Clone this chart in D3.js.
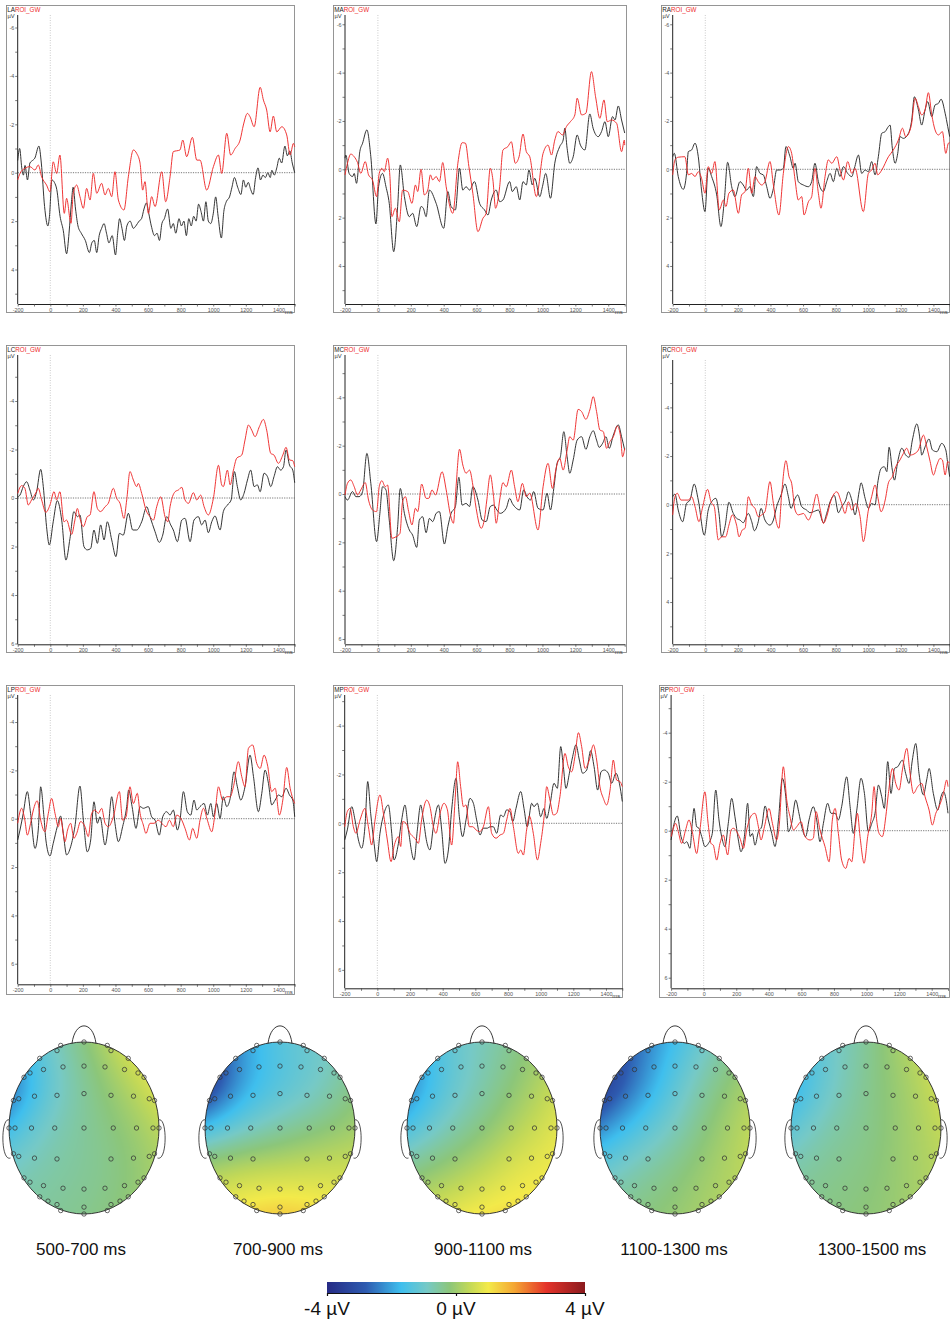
<!DOCTYPE html>
<html><head><meta charset="utf-8">
<script src="https://cdn.jsdelivr.net/npm/d3@7"></script>
<style>
html,body{margin:0;padding:0;background:#fff;}
svg{display:block;font-family:"Liberation Sans",Arial,sans-serif;}
</style></head><body>
<svg id="fig" width="950" height="1320"></svg>
<script>
// ---------- ERP waveforms: [time in ms, amplitude in µV] ----------
const roiNames = ["LA","MA","RA","LC","MC","RC","LP","MP","RP"];
const conditionLabel = "ROI_GW";
const timeTicks = d3.range(-200, 1401, 200);

const blackLA = [[-200,-0.5],[-188,-1.0],[-175,-0.2],[-165,0.1],[-155,-0.3],[-140,0.3],[-125,-0.4],[-110,-0.5],[-95,-0.6],[-70,-1.1],[-55,-0.4],[-35,1.4],[-15,2.2],[-5,1.8],[10,0.3],[25,0.4],[40,0.7],[60,1.8],[80,2.4],[100,3.35],[115,2.5],[130,1.2],[140,0.6],[155,1.5],[170,2.2],[190,2.5],[215,2.8],[240,3.3],[255,2.9],[270,2.8],[285,3.3],[300,2.6],[315,2.3],[330,2.1],[345,2.5],[360,2.9],[380,2.6],[400,3.4],[415,2.4],[425,1.9],[440,2.3],[455,2.8],[470,2.2],[490,2.0],[510,2.3],[525,2.2],[545,2.0],[560,1.9],[575,1.5],[590,1.25],[605,1.7],[620,2.2],[640,2.6],[655,2.5],[670,2.8],[685,2.1],[700,1.9],[720,1.5],[740,2.3],[755,2.1],[770,2.5],[790,1.9],[805,2.2],[820,2.0],[835,2.6],[850,1.9],[865,2.2],[880,1.8],[895,2.0],[910,1.3],[925,1.6],[940,2.0],[955,1.2],[970,2.0],[985,2.1],[1000,1.7],[1015,1.0],[1030,1.8],[1050,2.7],[1065,1.6],[1080,1.2],[1100,1.0],[1115,0.6],[1130,0.2],[1150,0.6],[1170,0.9],[1185,0.3],[1200,0.6],[1215,0.4],[1230,0.7],[1245,0.9],[1260,0.2],[1275,-0.2],[1290,0.3],[1305,0.1],[1320,0.2],[1335,0.0],[1350,0.2],[1360,-0.1],[1375,0.1],[1390,-0.2],[1405,-0.6],[1420,-0.4],[1440,-1.1],[1455,-0.7],[1470,-0.9],[1485,-0.4],[1500,0.0]];
const redLA = [[-200,0.3],[-186,0.03],[-156,-0.18],[-125,-0.25],[-94,-0.11],[-74,-0.32],[-53,0.17],[-23,0.51],[-2,0.79],[18,-0.45],[39,0.03],[59,-0.73],[86,1.68],[100,1.06],[127,2.09],[141,0.85],[162,0.51],[182,0.99],[203,1.47],[223,0.65],[244,1.13],[264,0.03],[285,0.85],[315,0.44],[336,0.92],[356,0.65],[377,0.99],[397,-0.04],[418,1.13],[452,1.54],[479,0.17],[510,-0.94],[530,-0.8],[551,-0.39],[567,0.72],[581,0.37],[602,1.68],[622,0.99],[643,1.4],[684,-0.04],[708,1.2],[735,0.17],[755,-0.87],[796,-0.94],[813,-1.35],[837,-0.66],[872,-1.46],[899,-0.52],[919,-0.52],[960,0.72],[1001,-0.25],[1032,-0.73],[1052,0.03],[1083,-1.63],[1107,-0.73],[1134,-1.0],[1165,-1.35],[1185,-1.97],[1210,-2.45],[1226,-2.31],[1251,-1.9],[1288,-3.53],[1308,-3.0],[1328,-2.59],[1349,-1.69],[1369,-2.34],[1390,-1.69],[1421,-1.9],[1451,-1.56],[1472,-0.73],[1492,-1.21],[1500,-1.07]];

const blackMA = [[-200,-0.46],[-195,-0.59],[-175,0.17],[-154,0.3],[-144,0.17],[-130,0.58],[-110,-0.73],[-93,-1.08],[-67,-1.63],[-43,-0.52],[-12,2.26],[4,0.72],[28,0.17],[49,0.72],[69,1.41],[96,3.41],[120,1.54],[136,-0.18],[161,1.13],[191,1.96],[211,1.82],[236,2.37],[262,1.54],[276,1.61],[293,1.96],[313,0.86],[354,1.41],[400,2.44],[425,0.92],[445,1.54],[471,1.68],[496,-0.04],[516,0.86],[536,0.72],[557,0.86],[587,0.51],[618,1.41],[648,1.68],[669,1.89],[689,1.27],[719,0.86],[740,1.34],[760,1.27],[801,0.51],[817,0.92],[841,0.72],[862,1.27],[882,0.51],[902,0.65],[918,0.03],[939,0.65],[953,0.37],[984,1.13],[1000,0.72],[1020,0.17],[1049,1.2],[1075,-0.25],[1105,-0.94],[1126,-1.21],[1136,-1.7],[1150,-0.87],[1166,-0.25],[1187,-0.52],[1211,-1.42],[1231,-1.0],[1258,-0.8],[1288,-2.29],[1308,-1.7],[1339,-1.35],[1359,-1.56],[1380,-1.97],[1400,-1.35],[1426,-2.18],[1441,-2.04],[1461,-2.62],[1481,-2.04],[1500,-1.5]];
const redMA = [[-200,0.23],[-185,-0.25],[-165,-0.63],[-144,-0.52],[-124,-0.28],[-104,0.17],[-77,-0.32],[-57,0.23],[-33,0.44],[-8,1.13],[8,0.17],[24,-0.04],[39,0.1],[59,-0.46],[73,0.3],[85,1.96],[106,1.61],[130,2.17],[150,0.86],[181,0.92],[207,1.41],[228,0.65],[242,0.92],[262,0],[282,1.06],[303,0.86],[319,0.23],[333,0.44],[354,0.3],[374,0.51],[394,-0.28],[415,0.72],[455,1.82],[486,-0.25],[512,-1.1],[532,-1.08],[553,-0.11],[577,0.99],[608,2.58],[638,2.03],[658,1.82],[683,-0.04],[699,0.44],[715,1.61],[740,0.72],[760,-0.8],[790,-0.94],[811,-1.14],[835,-0.25],[858,-0.52],[882,-1.46],[902,-0.73],[923,-0.52],[963,1.13],[1004,-0.66],[1034,-1.0],[1055,-0.59],[1075,-1.21],[1095,-1.56],[1122,-1.42],[1146,-1.77],[1170,-1.97],[1197,-2.25],[1211,-2.94],[1238,-2.25],[1264,-2.32],[1298,-4.04],[1323,-3.0],[1349,-2.11],[1374,-2.87],[1394,-1.97],[1420,-2.04],[1451,-1.9],[1481,-0.73],[1498,-1.21],[1500,-1.0]];

const blackRA = [[-200,-0.52],[-190,-0.66],[-166,0.3],[-135,0.83],[-115,0.17],[-104,-0.73],[-84,-0.8],[-63,-1.08],[-43,-0.52],[-23,0.86],[-2,1.75],[18,-0.04],[39,0.3],[70,1.06],[96,2.37],[117,1.27],[137,-0.29],[162,0.72],[182,1.13],[213,0.51],[233,0.65],[254,0.86],[274,0.72],[295,1.13],[315,-0.11],[336,0.17],[356,0.23],[377,0.72],[397,1.2],[418,0.79],[438,0.03],[458,0.03],[479,-0.04],[495,-0.94],[520,-0.52],[540,-0.04],[551,-0.25],[571,0.51],[602,0.65],[633,0.72],[653,0.51],[673,-0.25],[694,0.51],[725,0.92],[745,0.51],[766,0.17],[786,0.51],[807,-0.04],[827,0.3],[848,-0.11],[874,0.17],[899,0.3],[915,-0.04],[940,-0.59],[960,0.17],[981,0.03],[1001,0.1],[1021,-0.32],[1042,0.23],[1062,-0.52],[1083,-1.49],[1104,-1.56],[1124,-1.77],[1134,-1.83],[1148,-0.87],[1165,-0.25],[1181,-0.66],[1195,-1.35],[1216,-1.28],[1247,-1.49],[1267,-2.04],[1283,-3.0],[1308,-2.46],[1328,-1.83],[1349,-2.46],[1365,-2.8],[1390,-2.18],[1410,-2.66],[1431,-2.73],[1447,-2.9],[1472,-2.32],[1488,-1.77],[1500,-1.35]];
const redRA = [[-200,0.23],[-186,-0.39],[-166,-0.5],[-125,-0.52],[-104,0.23],[-84,0.17],[-63,0.3],[-43,0.1],[-23,0.37],[-2,0.99],[18,-0.11],[39,0.17],[59,-0.32],[86,1.68],[111,1.27],[127,1.54],[145,0.99],[172,0.86],[203,1.82],[223,1.06],[244,0.92],[264,-0.04],[285,0.99],[305,0.3],[325,0.51],[346,0.65],[366,0.51],[397,-0.32],[418,0.65],[452,1.89],[479,0.17],[510,-0.94],[530,-0.66],[551,0.44],[571,1.27],[592,1.13],[606,1.89],[633,1.34],[653,1.13],[673,-0.04],[694,0.99],[710,1.61],[735,0.3],[755,-0.39],[776,-0.25],[807,-0.52],[827,0.03],[848,0.44],[874,-0.32],[899,0.17],[919,-0.04],[970,1.75],[1001,0.17],[1021,0.03],[1042,-0.25],[1058,0.23],[1083,0.03],[1124,-0.52],[1154,-0.8],[1185,-1.21],[1210,-1.7],[1230,-1.35],[1263,-1.77],[1288,-2.94],[1308,-2.59],[1328,-2.25],[1349,-2.46],[1369,-3.17],[1390,-2.25],[1410,-1.63],[1431,-1.42],[1455,-1.56],[1476,-0.66],[1492,-1.08],[1500,-1.1]];

const blackLC = [[-200,-0.05],[-186,-0.12],[-166,-0.47],[-145,-0.67],[-125,-0.33],[-104,0.08],[-84,-0.26],[-59,-1.18],[-43,-0.47],[-23,1.18],[-6,1.94],[18,0.98],[43,0.11],[70,0.91],[96,2.56],[121,1.66],[145,0.56],[166,0.77],[182,0.7],[207,2.01],[227,2.14],[248,2.08],[268,1.32],[289,1.87],[309,1.11],[330,1.73],[350,0.98],[377,1.73],[403,2.42],[424,1.46],[448,1.53],[479,0.63],[506,1.32],[530,1.32],[561,0.98],[592,0.36],[612,0.77],[643,1.39],[669,1.83],[690,1.53],[714,0.77],[739,1.11],[755,1.32],[780,1.8],[807,0.91],[827,0.84],[858,1.8],[882,0.91],[909,0.77],[929,1.11],[950,0.91],[970,1.43],[991,0.98],[1011,0.74],[1042,1.32],[1062,0.56],[1087,0.29],[1110,0.08],[1130,-1.09],[1148,-0.47],[1169,0.08],[1189,-0.19],[1210,-0.74],[1230,-1.15],[1251,-0.47],[1271,-0.54],[1288,-0.26],[1312,-1.02],[1333,-0.88],[1353,-0.47],[1373,-0.88],[1394,-1.29],[1414,-1.15],[1431,-1.29],[1447,-1.98],[1468,-1.36],[1488,-1.15],[1500,-0.63]];
const redLC = [[-200,-0.19],[-176,-0.51],[-156,-0.4],[-135,0.29],[-115,0.08],[-88,-0.22],[-74,-0.4],[-53,0.08],[-27,0.59],[-2,0.29],[23,-0.26],[39,0.08],[59,-0.26],[84,0.98],[100,0.91],[131,1.5],[151,0.91],[166,0.43],[182,0.84],[203,1.18],[227,0.77],[244,0.7],[268,-0.26],[289,0.43],[309,0.56],[336,0.36],[356,0.22],[387,-0.4],[407,0.01],[428,0.22],[452,0.84],[469,0.08],[489,-1.09],[510,-0.74],[530,-0.47],[540,-0.6],[561,-0.19],[587,0.49],[612,0.77],[633,0.91],[653,0.36],[678,-0.05],[704,0.77],[721,0.98],[735,0.36],[766,-0.26],[786,-0.33],[807,-0.44],[827,0.08],[848,0.22],[878,-0.22],[899,0.08],[923,-0.12],[944,0.36],[970,0.7],[1001,0.01],[1032,-1.35],[1052,-0.54],[1062,-0.47],[1087,-1.15],[1104,-0.54],[1124,-1.15],[1144,-1.64],[1175,-1.77],[1195,-2.39],[1216,-3.01],[1236,-2.8],[1257,-2.53],[1283,-2.94],[1308,-3.24],[1328,-2.8],[1353,-1.84],[1373,-1.77],[1400,-1.43],[1427,-1.77],[1447,-2.09],[1468,-1.57],[1488,-1.54],[1500,-1.29]];

const blackMC = [[-200,0.11],[-185,0.25],[-154,-0.1],[-134,0.11],[-114,0.11],[-93,-0.1],[-67,-1.68],[-43,-0.44],[-8,1.97],[12,0.8],[28,-0.3],[49,-0.17],[69,1.08],[96,2.76],[120,1.35],[136,-0.23],[161,0.8],[191,1.49],[211,1.7],[236,2.21],[252,1.08],[272,0.94],[293,1.6],[313,1.01],[333,1.14],[354,0.8],[374,0.73],[404,2.07],[425,1.35],[445,0.8],[471,0.52],[492,-0.69],[512,0.46],[536,0.39],[557,0.52],[577,-0.3],[608,0.25],[634,1.08],[658,1.14],[683,0.52],[703,0.46],[723,0.66],[744,0.8],[780,0.59],[801,0.18],[817,0.39],[841,0.59],[862,0.66],[886,-0.17],[906,0.11],[927,0.25],[947,-0.1],[973,0.59],[1004,0.66],[1028,-0.03],[1049,0.66],[1069,-0.23],[1089,-1.27],[1109,-1.54],[1130,-2.58],[1150,-1.54],[1166,-0.86],[1187,-1.41],[1211,-2.23],[1238,-2.37],[1264,-1.85],[1288,-2.37],[1309,-2.62],[1329,-2.23],[1345,-1.93],[1366,-2.1],[1386,-2.37],[1406,-1.89],[1431,-2.44],[1461,-2.86],[1481,-2.37],[1500,-1.82]];
const redMC = [[-200,0.04],[-185,-0.44],[-165,-0.58],[-144,-0.3],[-124,0.04],[-104,-0.17],[-77,-0.47],[-57,0.25],[-33,0.66],[-8,0.73],[8,-0.3],[24,-0.55],[45,-0.3],[59,-0.37],[85,1.83],[110,1.77],[134,1.63],[150,0.32],[167,0.11],[187,0.73],[207,1.28],[228,0.59],[242,0.73],[266,-0.41],[293,0.18],[309,0.18],[329,-0.17],[350,0.04],[390,-0.92],[415,-0.17],[439,0.8],[459,1.21],[475,-0.3],[496,-1.85],[516,-1.2],[536,-0.86],[557,-0.99],[577,-0.37],[597,0.59],[628,1.42],[648,1.01],[662,0.25],[683,-0.79],[703,0.11],[719,1.21],[740,0.25],[760,-0.47],[780,-0.3],[811,-0.99],[831,-0.3],[851,0.32],[878,-0.44],[902,0.11],[923,-0.03],[973,1.49],[1004,-0.3],[1034,-1.27],[1061,-0.23],[1081,-0.99],[1105,-1.48],[1126,-0.99],[1150,-1.82],[1166,-2.37],[1187,-2.23],[1217,-3.5],[1238,-3.41],[1264,-3.09],[1288,-3.48],[1309,-4.03],[1329,-3.41],[1349,-2.65],[1370,-2.58],[1390,-1.89],[1410,-2.17],[1431,-2.37],[1455,-2.81],[1475,-2.37],[1487,-1.54],[1500,-1.89]];

const blackRC = [[-200,-0.33],[-186,-0.44],[-166,0.22],[-139,0.7],[-115,-0.05],[-94,-0.19],[-68,-0.85],[-43,-0.19],[-6,1.25],[18,0.22],[39,-0.12],[65,-0.26],[84,0.36],[100,1.32],[121,0.9],[145,-0.1],[172,0.36],[192,0.56],[213,0.63],[233,0.74],[264,0.36],[285,0.7],[301,1.07],[325,0.7],[342,0.15],[366,0.63],[397,0.84],[418,0.63],[438,0.08],[465,-0.4],[489,-0.85],[510,-0.33],[526,0.15],[547,-0.19],[567,-0.4],[592,0.08],[622,0.22],[643,0.33],[663,0.29],[694,0.22],[725,0.74],[745,0.36],[766,-0.12],[792,-0.38],[817,0.33],[837,0.08],[862,-0.19],[878,-0.53],[899,-0.19],[919,0.42],[944,-0.53],[956,-0.9],[981,-0.26],[1001,0.15],[1021,-0.05],[1042,0.01],[1058,-0.88],[1079,-1.49],[1099,-1.56],[1114,-1.36],[1128,-2.36],[1148,-1.42],[1161,-1.01],[1181,-1.77],[1206,-2.32],[1230,-2.04],[1251,-1.95],[1271,-2.66],[1298,-3.32],[1318,-2.66],[1328,-2.04],[1349,-2.38],[1373,-2.7],[1394,-2.25],[1421,-2.18],[1451,-2.52],[1476,-2.25],[1488,-1.7],[1500,-1.15]];
const redRC = [[-200,0.42],[-186,-0.33],[-172,-0.47],[-149,-0.19],[-125,-0.19],[-104,-0.19],[-84,-0.33],[-63,0.08],[-39,0.7],[-18,0.15],[14,-0.63],[35,-0.12],[55,0.08],[80,1.45],[100,1.32],[125,1.32],[145,0.84],[166,0.42],[192,0.84],[207,1.32],[227,1.04],[244,0.97],[264,-0.33],[285,0.01],[305,0.15],[325,0.49],[346,0.42],[366,0.29],[397,-0.95],[418,-0.05],[438,0.77],[452,0.97],[469,-0.47],[495,-1.81],[514,-1.15],[530,-0.88],[551,0.22],[571,0.42],[602,0.36],[633,0.63],[653,0.36],[684,-0.44],[704,0.15],[725,0.77],[745,0.49],[772,-0.19],[807,-0.53],[837,-0.05],[858,0.36],[878,-0.12],[899,0.22],[923,-0.05],[950,0.49],[970,1.52],[1001,0.22],[1021,-0.33],[1042,-0.81],[1058,-0.33],[1079,0.29],[1104,-0.19],[1124,-0.9],[1148,-1.15],[1169,-1.56],[1195,-1.84],[1216,-2.11],[1236,-2.32],[1257,-2.04],[1288,-2.11],[1308,-2.25],[1339,-2.86],[1359,-2.38],[1380,-1.77],[1400,-1.22],[1421,-1.63],[1441,-1.9],[1455,-1.84],[1472,-1.22],[1488,-1.77],[1500,-1.7]];

const blackLP = [[-200,0.88],[-186,0.47],[-166,-0.22],[-141,-1.12],[-121,-0.22],[-94,1.23],[-74,0.47],[-59,-1.32],[-39,-0.08],[-27,0.88],[-2,1.54],[18,1.02],[43,0.33],[63,-0.11],[80,0.61],[100,1.5],[125,1.16],[151,0.33],[182,-1.35],[203,0.06],[227,1.37],[248,0.88],[268,-0.7],[289,0.19],[305,-0.08],[336,1.09],[356,0.33],[377,-0.91],[397,0.19],[418,0.95],[444,0.33],[469,-0.5],[481,-1.19],[502,-0.5],[526,0.4],[551,-0.5],[571,-0.43],[602,-0.5],[622,-0.08],[643,0.06],[669,0.68],[690,-0.08],[714,-0.29],[735,-0.15],[755,-0.36],[780,0.47],[796,0.06],[817,-1.12],[841,-0.29],[862,-0.15],[882,-0.77],[899,-0.36],[919,-0.5],[944,-0.63],[964,-0.15],[985,-0.63],[1001,-0.08],[1021,-0.63],[1042,-0.01],[1062,-0.91],[1083,-0.5],[1104,-0.84],[1128,-1.94],[1148,-1.32],[1169,-0.77],[1195,-1.32],[1226,-2.63],[1247,-1.74],[1277,-0.29],[1298,-1.05],[1318,-2.01],[1339,-1.46],[1359,-0.57],[1380,-0.77],[1400,-0.98],[1421,-0.91],[1447,-1.26],[1468,-0.98],[1488,-0.77],[1500,-0.08]];
const redLP = [[-200,0.19],[-176,-0.43],[-156,0.06],[-141,0.68],[-121,0.19],[-104,-0.36],[-80,-0.74],[-59,0.06],[-33,0.54],[-12,-0.22],[8,-0.84],[29,-0.22],[49,0.33],[63,-0.01],[90,0.95],[106,0.47],[125,0.19],[145,0.81],[162,0.61],[186,0.12],[213,0.33],[233,0.74],[254,-0.22],[274,-0.36],[295,-0.22],[315,-0.43],[336,0.19],[356,0.33],[387,-0.08],[424,-1.12],[444,0.06],[465,-0.08],[489,-1.32],[510,-0.63],[534,-1.05],[551,-0.22],[571,0.26],[587,0.61],[612,0.19],[637,0.19],[663,0.06],[684,0.19],[710,0.33],[731,0.06],[755,0.33],[776,-0.15],[807,0.06],[827,0.4],[854,0.88],[874,0.4],[899,0.81],[919,0.06],[940,-0.43],[964,0.06],[991,0.54],[1011,-0.22],[1032,-1.32],[1058,-0.77],[1083,-0.91],[1104,-0.91],[1124,-1.32],[1154,-2.36],[1175,-1.74],[1195,-1.32],[1216,-2.91],[1242,-3.05],[1267,-2.29],[1288,-2.08],[1312,-2.63],[1333,-2.22],[1359,-1.12],[1380,-1.26],[1406,-0.15],[1427,-0.77],[1451,-2.12],[1472,-1.26],[1488,-0.84],[1500,-0.63]];

const blackMP = [[-200,0.68],[-184,0.27],[-157,-0.68],[-137,-0.14],[-116,0.68],[-96,1.02],[-76,0.14],[-59,-1.71],[-41,-0.41],[-20,0.82],[-4,1.57],[16,0.41],[41,-0.41],[67,-0.75],[88,0.41],[102,1.5],[129,0.82],[149,-0.14],[169,-0.75],[190,0.27],[225,1.5],[245,0.27],[265,-0.75],[282,-0.14],[302,0.75],[322,1.09],[343,0.14],[374,-0.75],[394,0.27],[414,1.64],[435,1.09],[455,-0.55],[482,-1.84],[502,-0.27],[522,0.55],[543,-0.14],[567,-1.02],[588,-0.82],[608,-0.14],[629,0.48],[649,0.2],[674,0.2],[690,0.14],[710,0.14],[731,0.41],[755,-0.34],[772,-0.27],[792,-0.55],[812,-0.48],[829,-0.07],[849,-0.61],[878,-1.3],[898,-0.61],[918,0.14],[945,-0.82],[959,-0.68],[980,-0.82],[1000,-0.27],[1021,-0.61],[1037,-0.2],[1057,-0.75],[1082,-1.64],[1102,-1.43],[1123,-3.14],[1139,-2.32],[1155,-1.43],[1176,-2.05],[1196,-2.73],[1216,-3.21],[1237,-2.59],[1257,-2.05],[1282,-2.18],[1306,-2.97],[1327,-2.32],[1349,-1.36],[1370,-2.11],[1390,-2.18],[1414,-2.05],[1435,-1.64],[1461,-2.05],[1482,-1.64],[1500,-0.89]];
const redMP = [[-200,0.14],[-184,-0.48],[-167,-0.61],[-147,0.14],[-131,0.41],[-106,-0.14],[-76,-0.61],[-55,0.14],[-35,0.89],[-14,-0.14],[16,-1.16],[37,-0.41],[61,0.68],[84,1.57],[102,0.95],[129,0.55],[143,0.95],[155,-0.07],[176,0],[200,0.41],[220,0.55],[237,0.68],[251,0.82],[271,-0.14],[302,-0.95],[322,-0.68],[343,0.14],[359,0.41],[384,-0.41],[408,-0.82],[429,-0.55],[455,0.89],[476,-0.95],[492,-2.52],[510,-1.5],[527,-0.68],[543,-0.75],[563,0.14],[584,0.14],[604,0.27],[625,0.34],[649,0.14],[680,-0.68],[700,0.41],[727,0.61],[751,0.48],[772,0.41],[792,-0.14],[812,-0.61],[833,0.14],[863,1.23],[878,1.09],[894,1.3],[914,0.27],[931,-0.3],[955,0.41],[980,1.5],[1000,0.82],[1021,-0.27],[1037,-1.5],[1057,-0.95],[1078,-0.34],[1098,-0.41],[1118,-1.09],[1149,-2.86],[1169,-2.32],[1190,-2.11],[1210,-2.73],[1231,-3.71],[1251,-3.14],[1272,-2.25],[1298,-2.59],[1323,-3.21],[1343,-2.59],[1363,-1.5],[1384,-1.02],[1404,-0.75],[1425,-1.36],[1445,-2.59],[1465,-1.77],[1486,-1.71],[1500,-1.5]];

const blackRP = [[-200,0.38],[-186,-0.16],[-162,-0.6],[-139,0.24],[-119,0.52],[-104,0.45],[-84,0.72],[-70,-0.3],[-59,-0.91],[-43,-0.16],[-29,-0.1],[-12,0.24],[8,0.65],[29,0.52],[53,0.11],[74,-1.66],[94,-0.44],[115,0.38],[131,0.65],[151,-0.3],[172,-1.32],[192,-0.57],[213,0.38],[229,0.86],[250,0.24],[270,-1.12],[285,0.24],[299,0.11],[315,0.59],[336,0.04],[356,-0.16],[377,-1.01],[397,-0.44],[418,0.11],[438,0.65],[459,-0.44],[483,-2.14],[504,-1.39],[520,0.04],[540,-0.3],[565,-1.25],[585,-0.71],[602,-0.16],[626,0.24],[647,-0.44],[673,-0.98],[694,-0.44],[714,0.45],[735,-0.3],[761,-1.12],[782,-0.71],[807,-0.71],[827,-0.44],[847,-0.98],[878,-2.2],[899,-0.98],[919,0.11],[940,-0.84],[966,-2.14],[987,-1.52],[1011,0.04],[1032,-0.3],[1052,-0.71],[1073,-1.86],[1093,-1.39],[1109,-0.91],[1130,-2.82],[1150,-1.52],[1171,-2.54],[1191,-2.61],[1220,-2.88],[1240,-2.34],[1261,-1.93],[1281,-2.88],[1302,-3.56],[1322,-2.34],[1349,-1.46],[1369,-2.07],[1384,-2.54],[1410,-1.52],[1437,-0.84],[1457,-1.39],[1472,-1.59],[1492,-1.12],[1500,-0.71]];
const redRP = [[-200,0.24],[-186,-0.1],[-172,-0.3],[-156,0.04],[-135,0.52],[-111,-0.03],[-90,-0.44],[-70,0.04],[-43,0.93],[-23,-0.03],[8,-1.59],[25,-0.44],[45,0.52],[59,0.59],[80,1.2],[100,0.52],[121,0.18],[147,0.99],[168,-0.03],[182,-0.1],[203,0.04],[223,0.31],[244,0.72],[264,-0.03],[295,-0.64],[315,-0.71],[336,-0.16],[352,0.38],[373,-0.16],[401,-0.91],[422,-0.3],[448,0.38],[463,-0.16],[489,-2.61],[510,-1.25],[530,-0.57],[551,-0.03],[571,-0.16],[598,-0.37],[622,0.24],[653,0.38],[673,0.31],[690,-0.78],[714,-0.03],[745,0.65],[770,1.27],[790,-0.44],[807,-0.91],[827,0.11],[847,1.2],[872,1.54],[893,1.13],[909,1.27],[929,-0.03],[944,-0.71],[960,0.24],[985,1.33],[1007,0.24],[1032,-0.71],[1046,-1.8],[1062,-0.44],[1077,0.11],[1097,0.24],[1118,-0.57],[1134,-1.52],[1159,-2.54],[1179,-1.93],[1200,-1.66],[1220,-2.48],[1247,-3.36],[1267,-2.34],[1288,-1.52],[1314,-1.8],[1339,-1.93],[1359,-1.39],[1384,-0.84],[1404,-0.23],[1425,-0.71],[1445,-0.98],[1472,-1.52],[1492,-2.07],[1500,-1.8]];

// ---------- Scalp maps: potential (µV) sampled on a 5x5 grid, rows front→back, columns left→right ----------
const mapLabels = ["500-700 ms","700-900 ms","900-1100 ms","1100-1300 ms","1300-1500 ms"];
const map500_700 = [
  [-2.0,-1.0,-0.3, 0.6, 1.3],
  [-2.8,-1.2,-0.5, 0.1, 0.8],
  [-1.6,-0.8,-0.5,-0.2, 0.3],
  [-0.8,-0.6,-0.5,-0.3, 0.1],
  [-0.6,-0.5,-0.4,-0.2, 0.2]];
const map700_900 = [
  [-3.5,-2.0,-1.3,-1.0,-0.6],
  [-3.8,-2.0,-1.4,-1.0,-0.3],
  [-1.5,-1.0,-0.6,-0.3, 0.0],
  [ 0.3, 0.5, 0.5, 0.6, 0.6],
  [ 0.8, 1.2, 1.4, 1.2, 0.9]];
const map900_1100 = [
  [-2.2,-1.2,-0.8,-0.3, 0.2],
  [-2.5,-1.3,-0.7,-0.1, 0.5],
  [-1.5,-0.8,-0.3, 0.3, 0.8],
  [-0.3, 0.0, 0.4, 0.9, 1.0],
  [ 0.4, 0.8, 1.1, 1.2, 1.0]];
const map1100_1300 = [
  [-3.6,-2.6,-1.6,-0.8,-0.2],
  [-3.8,-2.4,-1.2,-0.4, 0.2],
  [-2.2,-1.4,-0.8,-0.1, 0.4],
  [-1.0,-0.6,-0.3, 0.1, 0.4],
  [-0.5,-0.3,-0.1, 0.2, 0.3]];
const map1300_1500 = [
  [-1.8,-1.0,-0.5, 0.2, 0.8],
  [-2.0,-1.0,-0.4, 0.0, 0.6],
  [-1.2,-0.6,-0.4, 0.0, 0.4],
  [-0.6,-0.4,-0.3, 0.0, 0.3],
  [-0.4,-0.3,-0.2, 0.0, 0.3]];

// electrode montage, normalised head coordinates (x right, y back)
const electrodes = [
 [0,-1.0],[-0.31,-0.96],[0.31,-0.96],[-0.36,-0.9],[0.36,-0.9],[-0.59,-0.81],[0.59,-0.81],
 [-0.54,-0.68],[-0.28,-0.71],[0,-0.72],[0.28,-0.71],[0.54,-0.68],
 [-0.72,-0.64],[-0.8,-0.59],[0.72,-0.64],[0.8,-0.59],
 [-0.94,-0.32],[-0.87,-0.34],[-0.66,-0.37],[-0.36,-0.38],[0,-0.4],[0.36,-0.38],[0.66,-0.37],[0.87,-0.34],[0.94,-0.32],
 [-1.0,0],[-0.92,0],[-0.7,0],[-0.39,0],[0,0],[0.39,0],[0.7,0],[0.92,0],[1.0,0],
 [-0.94,0.3],[-0.87,0.33],[-0.66,0.35],[-0.36,0.36],[0.36,0.36],[0.66,0.35],[0.87,0.33],[0.94,0.3],
 [-0.8,0.58],[-0.72,0.63],[-0.54,0.67],[-0.28,0.7],[0,0.71],[0.28,0.7],[0.54,0.67],[0.72,0.63],[0.8,0.58],
 [-0.59,0.8],[-0.48,0.85],[-0.36,0.89],[-0.31,0.96],[0,0.92],[0,1.0],[0.31,0.96],[0.36,0.89],[0.48,0.85],[0.59,0.8]];

// colour scale of the maps
const colorDomain = [-4,-2.8,-1.7,-0.9,-0.2,0.4,1.0,1.8,2.8,4];
const colorRange = ["#262b85","#2e5bb0","#3fbfee","#76c9c6","#8cc67a","#c1d858","#f3ea4a","#f4a734","#e4332a","#8a1a1e"];
const colorTicks = [-4,0,4];

// ---------- layout ----------
const svg = d3.select("#fig");
const waves = {
  LA:[blackLA,redLA], MA:[blackMA,redMA], RA:[blackRA,redRA],
  LC:[blackLC,redLC], MC:[blackMC,redMC], RC:[blackRC,redRC],
  LP:[blackLP,redLP], MP:[blackMP,redMP], RP:[blackRP,redRP]};

const panelBoxes = [
  {frame:[6,5,295,313],   xr:[17.7,294.7], yt:15,  yb:304,   zero:172.7, k:24.2},
  {frame:[333,5,627,313], xr:[345,624.7],  yt:15,  yb:304,   zero:169.3, k:24.17},
  {frame:[661,5,950,313], xr:[672.7,949.7],yt:15,  yb:304,   zero:169.3, k:24.17},
  {frame:[6,345,295,653], xr:[17.7,294.7], yt:355, yb:644.3, zero:498,   k:24.25},
  {frame:[333,345,627,653],xr:[345,624.7], yt:355, yb:644.3, zero:494,   k:24.17},
  {frame:[661,345,950,653],xr:[672.7,949.7],yt:360,yb:644.3, zero:504.7, k:24.33},
  {frame:[6,685,295,995], xr:[17.7,294.7], yt:695, yb:984.3, zero:818.7, k:24.17},
  {frame:[333,685,623,998],xr:[344.7,622.3],yt:695,yb:988.3, zero:823.3, k:24.43},
  {frame:[659,685,950,998],xr:[671.1,948], yt:695, yb:988.3, zero:830.7, k:24.5}];

const blackColor = "#2a2a2a", redColor = "#ee2b2b";

roiNames.forEach((roi, i) => {
  const b = panelBoxes[i];
  const g = svg.append("g");
  const [fx0, fy0, fx1, fy1] = b.frame;
  g.append("rect").attr("x", fx0 + 0.5).attr("y", fy0 + 0.5)
    .attr("width", fx1 - fx0 - 1).attr("height", fy1 - fy0 - 1)
    .attr("fill", "none").attr("stroke", "#8a8a8a").attr("stroke-width", 0.9);

  const x = d3.scaleLinear().domain([-200, 1500]).range(b.xr);
  const y = d3.scaleLinear()
    .domain([(b.yt - b.zero) / b.k, (b.yb - b.zero) / b.k])
    .range([b.yt, b.yb]);

  // stimulus onset and baseline
  g.append("line").attr("x1", x(0)).attr("x2", x(0)).attr("y1", b.yt).attr("y2", b.yb)
    .attr("stroke", "#b5b5b5").attr("stroke-width", 0.7).attr("stroke-dasharray", "1,1.5");
  g.append("line").attr("x1", b.xr[0]).attr("x2", b.xr[1]).attr("y1", y(0)).attr("y2", y(0))
    .attr("stroke", "#555").attr("stroke-width", 0.8).attr("stroke-dasharray", "1.2,1.2");

  // axes
  const yVals = d3.range(Math.ceil(y.domain()[0]), Math.floor(y.domain()[1]) + 1);
  const yAxis = d3.axisLeft(y).tickValues(yVals).tickSize(2.5).tickSizeOuter(0)
    .tickFormat(d => d % 2 === 0 ? String(d) : "");
  const ya = g.append("g").attr("transform", `translate(${b.xr[0]},0)`).call(yAxis);
  ya.select(".domain").attr("d", `M0,${b.yt}V${b.yb}`).attr("stroke", "#222").attr("stroke-width", 1);
  ya.selectAll(".tick line").attr("stroke", "#444").attr("stroke-width", 0.7);
  ya.selectAll(".tick text").attr("font-size", 5.4).attr("fill", "#555").attr("x", -3.5).attr("font-family", "Liberation Sans, Arial, sans-serif");

  const xAxis = d3.axisBottom(x).tickValues(d3.range(-200, 1501, 100)).tickSize(2.5).tickSizeOuter(0)
    .tickFormat(d => timeTicks.includes(d) ? String(d) : "");
  const xa = g.append("g").attr("transform", `translate(0,${b.yb})`).call(xAxis);
  xa.select(".domain").attr("stroke", "#222").attr("stroke-width", 1);
  xa.selectAll(".tick line").attr("stroke", "#444").attr("stroke-width", 0.7);
  xa.selectAll(".tick text").attr("font-size", 5.4).attr("fill", "#555").attr("y", 4).attr("font-family", "Liberation Sans, Arial, sans-serif");
  g.append("text").attr("x", x(1500) - 2).attr("y", b.yb + 9.5).attr("text-anchor", "end")
    .attr("font-size", 6).attr("fill", "#444").text("ms");

  // titles
  const t = g.append("text").attr("x", fx0 + 1.2).attr("y", fy0 + 6.8).attr("font-size", 6.3);
  t.append("tspan").attr("fill", "#222").text(roi);
  t.append("tspan").attr("fill", redColor).text(conditionLabel);
  g.append("text").attr("x", fx0 + 1.5).attr("y", fy0 + 12.5).attr("font-size", 5.8).attr("fill", "#333").text("µV");

  // waveforms
  const line = d3.line().x(d => x(d[0])).y(d => y(d[1])).curve(d3.curveMonotoneX);
  const [kw, rw] = waves[roi];
  g.append("path").datum(kw).attr("d", line).attr("fill", "none")
    .attr("stroke", blackColor).attr("stroke-width", 0.95).attr("stroke-linejoin", "round");
  g.append("path").datum(rw).attr("d", line).attr("fill", "none")
    .attr("stroke", redColor).attr("stroke-width", 0.95).attr("stroke-linejoin", "round");
});

// ---------- scalp maps ----------
const fieldColor = d3.scaleLinear().domain(colorDomain).range(colorRange)
  .interpolate(d3.interpolateRgb).clamp(true);
const lut = d3.range(801).map(i => d3.rgb(fieldColor(-4 + i * 0.01)));

function fieldImage(grid, rx, ry) {
  const s = 2, pad = 2;
  const W = Math.ceil((2 * rx + 2 * pad) * s), H = Math.ceil((2 * ry + 2 * pad) * s);
  const cv = document.createElement("canvas");
  cv.width = W; cv.height = H;
  const ctx = cv.getContext("2d");
  const im = ctx.createImageData(W, H);
  const rowF = grid.map(r => d3.interpolateBasis(r));
  for (let i = 0; i < W; i++) {
    const u = (i / s - (rx + pad)) / rx;
    const gu = Math.max(0, Math.min(1, (u + 1) / 2));
    const colF = d3.interpolateBasis(rowF.map(f => f(gu)));
    for (let j = 0; j < H; j++) {
      const v = (j / s - (ry + pad)) / ry;
      const gv = Math.max(0, Math.min(1, (v + 1) / 2));
      const val = Math.max(-4, Math.min(4, colF(gv)));
      const c = lut[Math.round((val + 4) * 100)];
      const p = (j * W + i) * 4;
      im.data[p] = c.r; im.data[p + 1] = c.g; im.data[p + 2] = c.b; im.data[p + 3] = 255;
    }
  }
  ctx.putImageData(im, 0, 0);
  return {url: cv.toDataURL(), w: W / s, h: H / s};
}

const maps = [map500_700, map700_900, map900_1100, map1100_1300, map1300_1500];
const headCenters = [84, 280, 482, 675, 866];
const headY = 1128, headRx = 75, headRy = 86;
const defs = svg.append("defs");

maps.forEach((grid, i) => {
  const cx = headCenters[i], cy = headY, rx = headRx, ry = headRy;
  const g = svg.append("g");
  defs.append("clipPath").attr("id", "scalp" + i)
    .append("ellipse").attr("cx", cx).attr("cy", cy).attr("rx", rx).attr("ry", ry);
  const img = fieldImage(grid, rx, ry);
  g.append("image").attr("href", img.url)
    .attr("x", cx - img.w / 2).attr("y", cy - img.h / 2)
    .attr("width", img.w).attr("height", img.h)
    .attr("preserveAspectRatio", "none")
    .attr("clip-path", `url(#scalp${i})`);
  // head, nose, ears
  g.append("ellipse").attr("cx", cx).attr("cy", cy).attr("rx", rx).attr("ry", ry)
    .attr("fill", "none").attr("stroke", "#222").attr("stroke-width", 0.9);
  const top = cy - ry;
  g.append("path").attr("d", `M${cx - 12},${top + 1.5} C${cx - 9},${top - 22} ${cx + 9},${top - 22} ${cx + 12},${top + 1.5}`)
    .attr("fill", "none").attr("stroke", "#222").attr("stroke-width", 0.9);
  [-1, 1].forEach(sd => {
    const ex = cx + sd * (rx - 0.5);
    g.append("path").attr("d", `M${ex},${cy - 8} C${ex + sd * 9},${cy - 12} ${ex + sd * 9},${cy + 34} ${ex - sd * 1},${cy + 30}`)
      .attr("fill", "none").attr("stroke", "#222").attr("stroke-width", 0.8);
  });
  g.selectAll("circle.el").data(electrodes).join("circle")
    .attr("cx", d => cx + d[0] * rx).attr("cy", d => cy + d[1] * ry).attr("r", 2.2)
    .attr("fill", "none").attr("stroke", "#333").attr("stroke-width", 0.75);
  svg.append("text").attr("x", [81, 278, 483, 674, 872][i]).attr("y", 1255)
    .attr("text-anchor", "middle").attr("font-size", 17).attr("fill", "#111")
    .text(mapLabels[i]);
});

// ---------- colour bar ----------
const cbX = d3.scaleLinear().domain([-4, 4]).range([327, 585]);
const grad = defs.append("linearGradient").attr("id", "cbar").attr("x1", "0%").attr("x2", "100%");
d3.range(0, 81).forEach(i => {
  const v = -4 + i * 0.1;
  grad.append("stop").attr("offset", (i / 80 * 100) + "%").attr("stop-color", fieldColor(v));
});
svg.append("rect").attr("x", 327).attr("y", 1282).attr("width", 258).attr("height", 11).attr("fill", "url(#cbar)");
const cba = svg.append("g").attr("transform", "translate(0,1293)")
  .call(d3.axisBottom(cbX).tickValues(colorTicks).tickSize(3).tickSizeOuter(0).tickFormat(""));
cba.select(".domain").attr("stroke", "#111").attr("stroke-width", 1.2);
cba.selectAll(".tick line").attr("stroke", "#111").attr("stroke-width", 1.2);
colorTicks.forEach(v => {
  svg.append("text").attr("x", cbX(v)).attr("y", 1315).attr("text-anchor", "middle")
    .attr("font-size", 19).attr("fill", "#111")
    .attr("font-family", "'Liberation Sans Narrow','Liberation Sans',Arial,sans-serif")
    .text(`${v} µV`);
});
</script></body></html>
